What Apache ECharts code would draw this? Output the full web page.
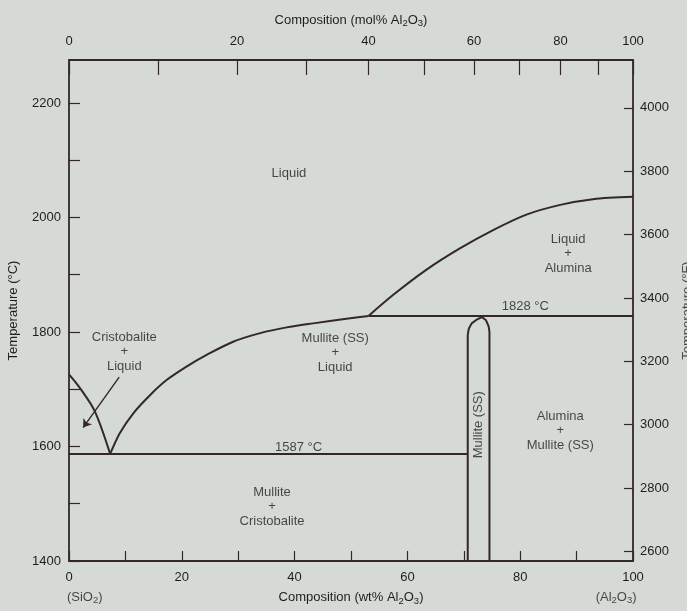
<!DOCTYPE html>
<html>
<head>
<meta charset="utf-8">
<title>SiO2 - Al2O3 phase diagram</title>
<script src="https://cdn.jsdelivr.net/npm/echarts@6/dist/echarts.min.js"></script>
<style>
  html, body { margin: 0; padding: 0; background: #d5dad6; }
  #chart { width: 687px; height: 611px; }
</style>
</head>
<body>
<div id="chart"></div>
<script>
  // phase boundaries, [wt% Al2O3, temperature °C]
  const silicaLiquidus = [[0, 1726], [1.95, 1702], [4.6, 1661], [7.3, 1587]];
  const mulliteLiquidus = [
    [7.3, 1587], [9.0, 1623], [11.4, 1658], [14.4, 1690], [17.3, 1716], [20.9, 1740],
    [24.4, 1760], [29.1, 1783], [33.9, 1798], [38.6, 1808], [43.3, 1815], [49.2, 1823], [53.1, 1828]
  ];
  const aluminaLiquidus = [
    [53.1, 1828], [57.5, 1865], [63.4, 1909], [69.3, 1946], [75.2, 1978],
    [81.1, 2005], [87.1, 2022], [92.9, 2032], [100, 2036]
  ];
  const line1828 = [[53.1, 1828], [100, 1828]];
  const line1587 = [[0, 1587], [70.7, 1587]];
  const mulliteSS = [
    [70.7, 1400], [70.7, 1795], [70.9, 1806], [71.4, 1815], [72.2, 1821], [73.2, 1826],
    [73.9, 1821], [74.4, 1810], [74.55, 1800], [74.55, 1400]
  ];
  const arrow = [[8.9, 1721], [2.5, 1633]];

  // axis ticks
  const wtLabels = [0, 20, 40, 60, 80, 100];
  const molTicks = [0, 10, 20, 30, 40, 50, 60, 70, 80, 90, 100];
  const molLabels = [0, 20, 40, 60, 80, 100];
  const celsiusTicks = [1400, 1500, 1600, 1700, 1800, 1900, 2000, 2100, 2200];
  const celsiusLabels = [1400, 1600, 1800, 2000, 2200];
  const fahrenheitTicks = [2600, 2800, 3000, 3200, 3400, 3600, 3800, 4000];

  // region labels, [wt%, °C, text]
  const regionLabels = [
    [39.0, 2077, 'Liquid'],
    [88.5, 1937, 'Liquid\n+\nAlumina'],
    [80.9, 1845, '1828 °C'],
    [9.8, 1766, 'Cristobalite\n+\nLiquid'],
    [47.2, 1764, 'Mullite (SS)\n+\nLiquid'],
    [40.7, 1599, '1587 °C'],
    [87.1, 1628, 'Alumina\n+\nMullite (SS)'],
    [36.0, 1495, 'Mullite\n+\nCristobalite'],
    [2.8, 1336, '(SiO{s|2})'],
    [97.0, 1336, '(Al{s|2}O{s|3})']
  ];
  const verticalLabel = [72.6, 1638, 'Mullite (SS)'];

  const M_AL2O3 = 101.96;
  const M_SIO2 = 60.08;
  const molToWt = (m) => {
    const a = m * M_AL2O3;
    return (100 * a) / (a + (100 - m) * M_SIO2);
  };
  const wtToMol = (w) => {
    const a = w / M_AL2O3;
    return (100 * a) / (a + (100 - w) / M_SIO2);
  };

  const ink = '#342826';
  const textColor = '#1f1e1d';
  const font = 'Liberation Sans';
  const sub = { fontSize: 9.5, lineHeight: 8, verticalAlign: 'bottom', color: textColor, fontFamily: font };
  const txt = { fontSize: 13, lineHeight: 16, color: textColor, fontFamily: font };
  const plain = (v) => String(Math.round(v));

  const boundary = (data, smooth) => ({
    type: 'line',
    data: data,
    symbol: 'none',
    smooth: smooth || false,
    silent: true,
    lineStyle: { color: ink, width: 2 },
    z: 3
  });

  const chart = echarts.init(document.getElementById('chart'));

  const option = {
    backgroundColor: '#d5dad6',
    animation: false,
    color: [ink],
    textStyle: { fontFamily: font },
    grid: { left: 69, right: 54, top: 60, bottom: 50, containLabel: false, outerBoundsMode: 'none' },
    xAxis: [
      {
        type: 'value',
        position: 'bottom',
        min: 0,
        max: 100,
        interval: 10,
        name: 'Composition (wt% Al{s|2}O{s|3})',
        nameLocation: 'middle',
        nameGap: 28,
        nameTextStyle: { ...txt, rich: { s: sub } },
        axisLine: { onZero: false, lineStyle: { color: ink, width: 1.8 } },
        axisTick: { inside: true, length: 10, lineStyle: { color: ink, width: 1.2 } },
        axisLabel: { customValues: wtLabels, formatter: plain, margin: 8, ...txt },
        splitLine: { show: false }
      },
      {
        type: 'value',
        position: 'top',
        min: 0,
        max: 100,
        name: 'Composition (mol% Al{s|2}O{s|3})',
        nameLocation: 'middle',
        nameGap: 32,
        nameTextStyle: { ...txt, rich: { s: sub } },
        axisLine: { onZero: false, lineStyle: { color: ink, width: 1.8 } },
        axisTick: {
          inside: true,
          length: 15,
          customValues: molTicks.map(molToWt),
          lineStyle: { color: ink, width: 1.2 }
        },
        axisLabel: {
          customValues: molLabels.map(molToWt),
          formatter: (v) => plain(wtToMol(v)),
          margin: 11,
          ...txt
        },
        splitLine: { show: false }
      }
    ],
    yAxis: [
      {
        type: 'value',
        position: 'left',
        min: 1400,
        max: 2275,
        name: 'Temperature (°C)',
        nameLocation: 'middle',
        nameGap: 48,
        nameTextStyle: { ...txt },
        axisLine: { show: true, onZero: false, lineStyle: { color: ink, width: 1.8 } },
        axisTick: {
          show: true,
          inside: true,
          length: 11,
          customValues: celsiusTicks,
          lineStyle: { color: ink, width: 1.2 }
        },
        axisLabel: { customValues: celsiusLabels, formatter: plain, margin: 8, ...txt },
        splitLine: { show: false }
      },
      {
        type: 'value',
        position: 'right',
        min: 2570,
        max: 4151,
        name: 'Temperature (°F)',
        nameLocation: 'middle',
        nameGap: 45,
        nameRotate: 90,
        nameTextStyle: { ...txt, color: '#4a4c4e' },
        axisLine: { show: true, onZero: false, lineStyle: { color: ink, width: 1.8 } },
        axisTick: {
          show: true,
          inside: true,
          length: 9,
          customValues: fahrenheitTicks,
          lineStyle: { color: ink, width: 1.2 }
        },
        axisLabel: { customValues: fahrenheitTicks, formatter: plain, margin: 7, ...txt },
        splitLine: { show: false }
      }
    ],
    series: [
      boundary(silicaLiquidus, 0.3),
      boundary(mulliteLiquidus, 0.3),
      boundary(aluminaLiquidus, 0.3),
      boundary(line1828),
      boundary(line1587),
      boundary(mulliteSS),
      {
        type: 'lines',
        coordinateSystem: 'cartesian2d',
        silent: true,
        symbol: ['none', 'arrow'],
        symbolSize: 8,
        lineStyle: { color: ink, width: 1.4, opacity: 1 },
        data: [{ coords: arrow }],
        z: 3
      },
      {
        type: 'scatter',
        symbolSize: 0,
        silent: true,
        clip: false,
        itemStyle: { color: 'transparent' },
        data: regionLabels.map((d) => ({ value: [d[0], d[1]], name: d[2] }))
          .concat([{
            value: [verticalLabel[0], verticalLabel[1]],
            name: verticalLabel[2],
            label: { rotate: 90 }
          }]),
        label: {
          show: true,
          position: 'inside',
          formatter: (p) => p.name,
          align: 'center',
          verticalAlign: 'middle',
          ...txt,
          lineHeight: 14.5,
          textBorderWidth: 0,
          rich: { s: sub }
        },
        z: 4
      }
    ]
  };

  chart.setOption(option);
</script>
</body>
</html>
